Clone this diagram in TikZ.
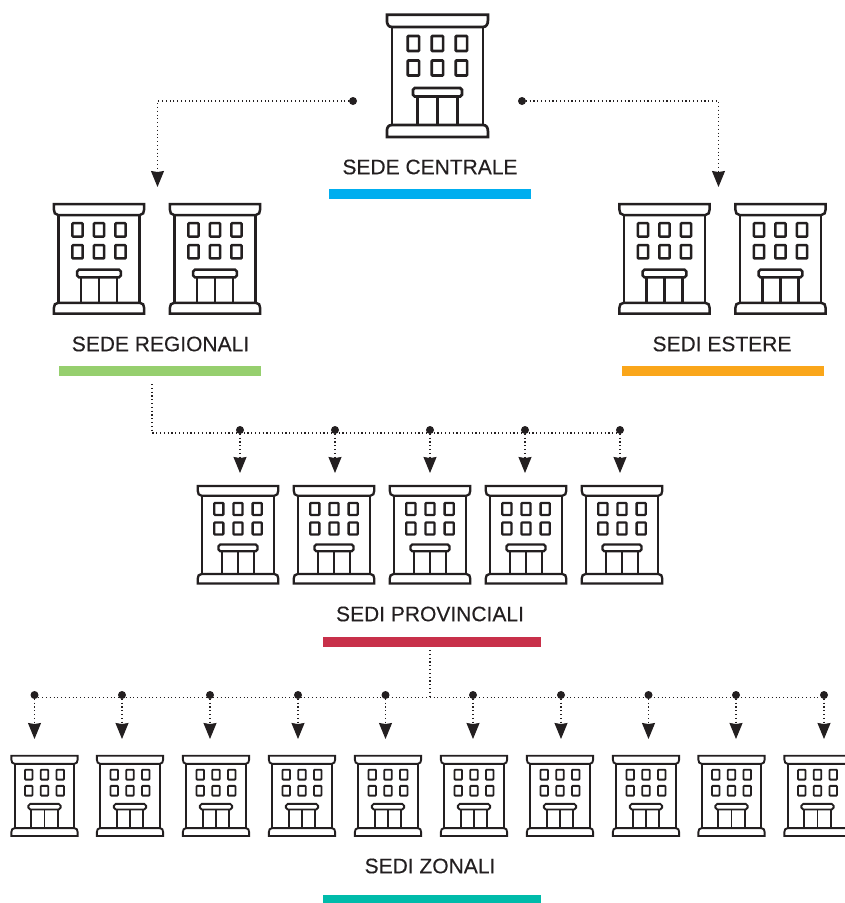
\documentclass[tikz,border=0pt]{standalone}
\usepackage{fontspec}
\setmainfont{Liberation Sans}
\newfontfamily\lblfont[FakeBold=0.25]{Liberation Sans}
\usetikzlibrary{arrows.meta}
\definecolor{ink}{HTML}{231F20}
\definecolor{barC}{HTML}{00AEEF}
\definecolor{barR}{HTML}{96CF6E}
\definecolor{barE}{HTML}{FAA61A}
\definecolor{barP}{HTML}{C8304A}
\definecolor{barZ}{HTML}{00BBAA}
\tikzset{
  x=1pt,y=-1pt,
  bar/.style={fill=#1,draw=none,anchor=north west,inner sep=0pt,minimum height=10pt},
  label text/.style={text=ink,font=\lblfont\fontsize{21}{25}\selectfont,inner sep=0pt,anchor=center},
  dot/.style={circle,fill=ink,draw=none,inner sep=0pt,minimum size=8pt},
  link/.style={draw=ink,line width=1.1pt,dash pattern=on 1.1pt off 2.7pt},
  drop/.style={link,-{Stealth[length=16pt,width=13pt,inset=1pt,fill=ink]}},
  building/.pic={
    \begin{scope}[draw=ink,line join=miter,fill=none]
      % roof
      \draw (-50.5,1.2) -- (50.5,1.2) -- (50.5,7) .. controls (50.5,10.5) and (49,13.5) .. (45.5,13.5)
            -- (-45.5,13.5) .. controls (-49,13.5) and (-50.5,10.5) .. (-50.5,7) -- cycle;
      % body
      \draw (-45.5,13.5) -- (-45.5,111.5) (45.5,13.5) -- (45.5,111.5);
      % base
      \draw (-45.5,111.5) -- (45.5,111.5) .. controls (49,111.5) and (50.5,114) .. (50.5,117.5) -- (50.5,123.5)
            -- (-50.5,123.5) -- (-50.5,117.5) .. controls (-50.5,114) and (-49,111.5) .. (-45.5,111.5) -- cycle;
      % windows
      \foreach \wx in {-24,0,24}{
        \draw[rounded corners=.8pt] (\wx-5.7,22.5) rectangle (\wx+5.7,37.5);
        \draw[rounded corners=.8pt] (\wx-5.7,47) rectangle (\wx+5.7,62);
      }
      % canopy
      \draw[rounded corners=1.8pt] (-24.5,83) -- (-24.5,74.5) -- (24.5,74.5) -- (24.5,83) -- cycle;
      % door
      \foreach \dx in {-20,0,20}{\draw (\dx,83) -- (\dx,111.5);}
    \end{scope}
  }
}
\begin{document}
\begin{tikzpicture}
\useasboundingbox (0,0) rectangle (845,903);
\clip (0,0) rectangle (845,903);

% buildings
\pic[line width=2.7pt] (central) at (437.4,13.5) {building};
\pic[scale=.895,line width=2.5pt] (regA) at (99,203) {building};
\pic[scale=.895,line width=2.5pt] (regB) at (215,203) {building};
\pic[scale=.895,line width=2.5pt] (estA) at (664.5,203) {building};
\pic[scale=.895,line width=2.5pt] (estB) at (780.5,203) {building};
\foreach \i/\cx in {1/238,2/334,3/430,4/526,5/622}
  \pic[scale=.798,line width=2.3pt] (prov\i) at (\cx,485) {building};
\foreach \i/\cx in {1/44.5,2/130,3/216,4/302,5/388,6/474,7/560,8/646,9/731.5,10/817.5}
  \pic[scale=.656,line width=1.9pt] (zon\i) at (\cx,755) {building};

% labels
\node[label text] (lblC) at (430,167) {SEDE CENTRALE};
\node[label text] (lblR) at (160.5,344) {SEDE REGIONALI};
\node[label text] (lblE) at (722,344) {SEDI ESTERE};
\node[label text] (lblP) at (430,614) {SEDI PROVINCIALI};
\node[label text] (lblZ) at (430,866) {SEDI ZONALI};

% bars
\node[bar=barC,minimum width=202pt] (barCn) at (329,189) {};
\node[bar=barR,minimum width=202pt] (barRn) at (59,366) {};
\node[bar=barE,minimum width=202pt] (barEn) at (622,366) {};
\node[bar=barP,minimum width=218pt] (barPn) at (323,637) {};
\node[bar=barZ,minimum width=218pt] (barZn) at (323,895) {};

% top connectors
\node[dot] (dL) at (353,101) {};
\node[dot] (dR) at (522,101) {};
\coordinate (tL) at (157.5,187);
\coordinate (tR) at (718.5,187);
\draw[drop] (dL.center) -| (tL);
\draw[drop] (dR.center) -| (tR);

% regional to provincial
\coordinate (rS) at (152,384);
\coordinate (rE) at (620,433);
\draw[link] (rS) |- (rE);
\foreach \i/\cx in {1/240,2/335,3/430,4/525,5/620}{
  \node[dot] (pd\i) at (\cx,430) {};
  \coordinate (pt\i) at (\cx,473);
  \draw[drop] (pd\i.center) -- (pt\i);
}

% provincial to zonal
\coordinate (pS) at (430,650);
\coordinate (pJ) at (430,697.5);
\coordinate (zL) at (34.5,697.5);
\coordinate (zR) at (824,697.5);
\draw[link] (pS) -- (pJ);
\draw[link] (zL) -- (zR);
\foreach \i/\cx in {1/34.5,2/122,3/210,4/298,5/385.5,6/473,7/561,8/648.5,9/736,10/824}{
  \node[dot] (zd\i) at (\cx,695) {};
  \coordinate (zt\i) at (\cx,739);
  \draw[drop] (zd\i.center) -- (zt\i);
}
\end{tikzpicture}
\end{document}
